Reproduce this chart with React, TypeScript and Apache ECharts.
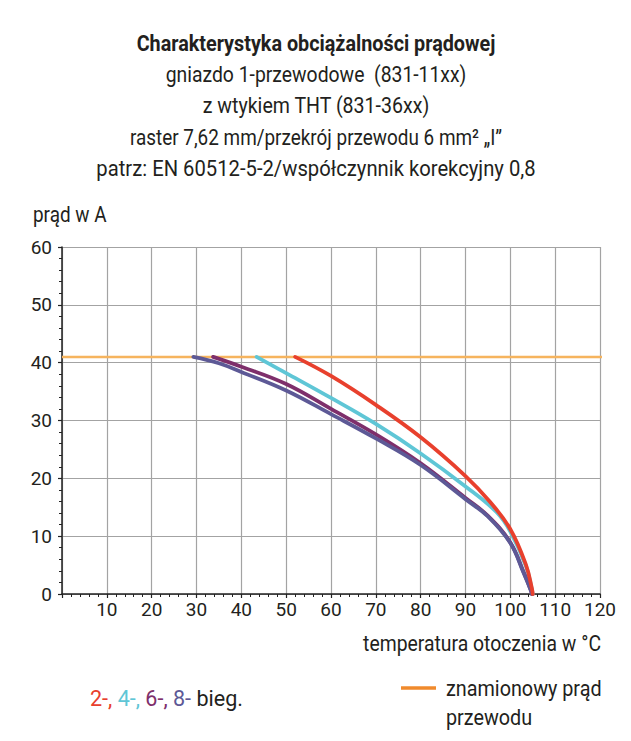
import React, { useEffect, useRef } from "react";
import * as echarts from "echarts";

const titleLines = [
  "Charakterystyka obciążalności prądowej",
  "gniazdo 1-przewodowe  (831-11xx)",
  "z wtykiem THT (831-36xx)",
  "raster 7,62 mm/przekrój przewodu 6 mm² „I”",
  "patrz: EN 60512-5-2/współczynnik korekcyjny 0,8",
];
const titleScale = [0.9, 0.88, 0.89, 0.86, 0.92];

const ratedCurrent: [number, number][] = [
  [0, 41],
  [120.5, 41],
];
const bieg2: [number, number][] = [
  [52, 41], [60, 37.7], [70, 32.7], [80, 27.1], [90, 20.4], [95.5, 15.9], [100, 11.2], [103.5, 5], [104.8, 1], [105, 0],
];
const bieg4: [number, number][] = [
  [43.4, 41], [50, 38.2], [60, 33.9], [70, 29.4], [80, 24.3], [90, 18.6], [97, 14.1], [100, 10.8], [103.5, 4.8], [104.8, 0.8], [105, 0],
];
const bieg6: [number, number][] = [
  [33.7, 41], [40, 39.3], [50, 36.3], [60, 32.0], [70, 27.6], [80, 22.6], [90, 16.6], [95, 13.5], [100, 8.9], [103, 3.7], [104.6, 0.6], [104.8, 0],
];
const bieg8: [number, number][] = [
  [29.3, 41], [35, 39.9], [40, 38.4], [50, 35.2], [60, 31.1], [70, 26.9], [80, 22.3], [90, 16.4], [95, 13.4], [100, 8.8], [103, 3.6], [104.6, 0.6], [104.8, 0],
];

const FONT = "Roboto, 'Noto Sans', sans-serif";
const TEXT = "#231f20";
const FS = 22;

export default function App() {
  const ref = useRef<HTMLDivElement>(null);
  useEffect(() => {
    if (!ref.current) return;
    const chart = echarts.init(ref.current, undefined, { renderer: "svg" });
    const lineSeries = (name: string, data: [number, number][], color: string, z: number) => ({
      name,
      type: "line",
      data,
      smooth: 0.4,
      showSymbol: false,
      symbol: "none",
      z,
      lineStyle: { color, width: 3.8, cap: "round" },
    });
    const txt = (text: string, x: number, y: number, align: string, sx: number, bold = false) => ({
      type: "text",
      x,
      y,
      scaleX: sx,
      style: {
        text,
        fill: TEXT,
        font: `${bold ? "bold " : ""}${FS}px ${FONT}`,
        textAlign: align,
        textVerticalAlign: "middle",
      },
    });
    chart.setOption({
      animation: false,
      backgroundColor: "#ffffff",
      textStyle: { fontFamily: FONT },
      grid: { left: 62, right: 31, top: 247, bottom: 147, containLabel: false },
      xAxis: {
        type: "value",
        min: 0,
        max: 120,
        interval: 10,
        axisLine: { show: true, onZero: false, lineStyle: { color: "#222", width: 1.5 } },
        axisTick: { show: true, length: 4, lineStyle: { color: "#222", width: 1.2 } },
        minorTick: { show: true, splitNumber: 5, length: 3, lineStyle: { color: "#222", width: 1 } },
        splitLine: { show: true, lineStyle: { color: "#a3a3a3", width: 1.2 } },
        axisLabel: {
          color: TEXT,
          fontSize: 19,
          fontFamily: FONT,
          margin: 6,
          formatter: (v: number) => (v === 0 ? "" : String(v)),
        },
      },
      yAxis: {
        type: "value",
        min: 0,
        max: 60,
        interval: 10,
        axisLine: { show: true, lineStyle: { color: "#222", width: 1.5 } },
        axisTick: { show: true, length: 4, lineStyle: { color: "#222", width: 1.2 } },
        minorTick: { show: true, splitNumber: 5, length: 3, lineStyle: { color: "#222", width: 1 } },
        splitLine: { show: true, lineStyle: { color: "#a3a3a3", width: 1.2 } },
        axisLabel: { color: TEXT, fontSize: 19, fontFamily: FONT, margin: 10 },
      },
      series: [
        {
          name: "znamionowy prąd przewodu",
          type: "line",
          data: ratedCurrent,
          showSymbol: false,
          symbol: "none",
          clip: false,
          z: 1,
          lineStyle: { color: "#f6b45e", width: 2.5 },
        },
        lineSeries("4-", bieg4, "#5fc6d6", 2),
        lineSeries("6-", bieg6, "#7e2f6b", 3),
        lineSeries("8-", bieg8, "#5d5996", 4),
        lineSeries("2-", bieg2, "#e8402d", 5),
      ],
      graphic: [
        ...titleLines.map((t, i) => txt(t, 316, 44 + i * 31, "center", titleScale[i], i === 0)),
        txt("prąd w A", 33, 214, "left", 0.86),
        txt("temperatura otoczenia w °C", 601, 644, "right", 0.88),
        {
          type: "text",
          x: 90,
          y: 698,
          scaleX: 0.98,
          style: {
            text: "{r|2-,} {c|4-,} {p|6-,} {s|8-} {k|bieg.}",
            font: `${FS}px ${FONT}`,
            textAlign: "left",
            textVerticalAlign: "middle",
            rich: {
              r: { fill: "#e8402d", font: `${FS}px ${FONT}` },
              c: { fill: "#5fc6d6", font: `${FS}px ${FONT}` },
              p: { fill: "#7e2f6b", font: `${FS}px ${FONT}` },
              s: { fill: "#5d5996", font: `${FS}px ${FONT}` },
              k: { fill: TEXT, font: `${FS}px ${FONT}` },
            },
          },
        },
        {
          type: "line",
          shape: { x1: 401, y1: 688, x2: 436, y2: 688 },
          style: { stroke: "#f08a2c", lineWidth: 3.5 },
        },
        txt("znamionowy prąd", 446, 689, "left", 0.9),
        txt("przewodu", 446, 718, "left", 0.9),
      ],
    });
    return () => chart.dispose();
  }, []);
  return <div ref={ref} style={{ width: 631, height: 741, margin: -8 }} />;
}
